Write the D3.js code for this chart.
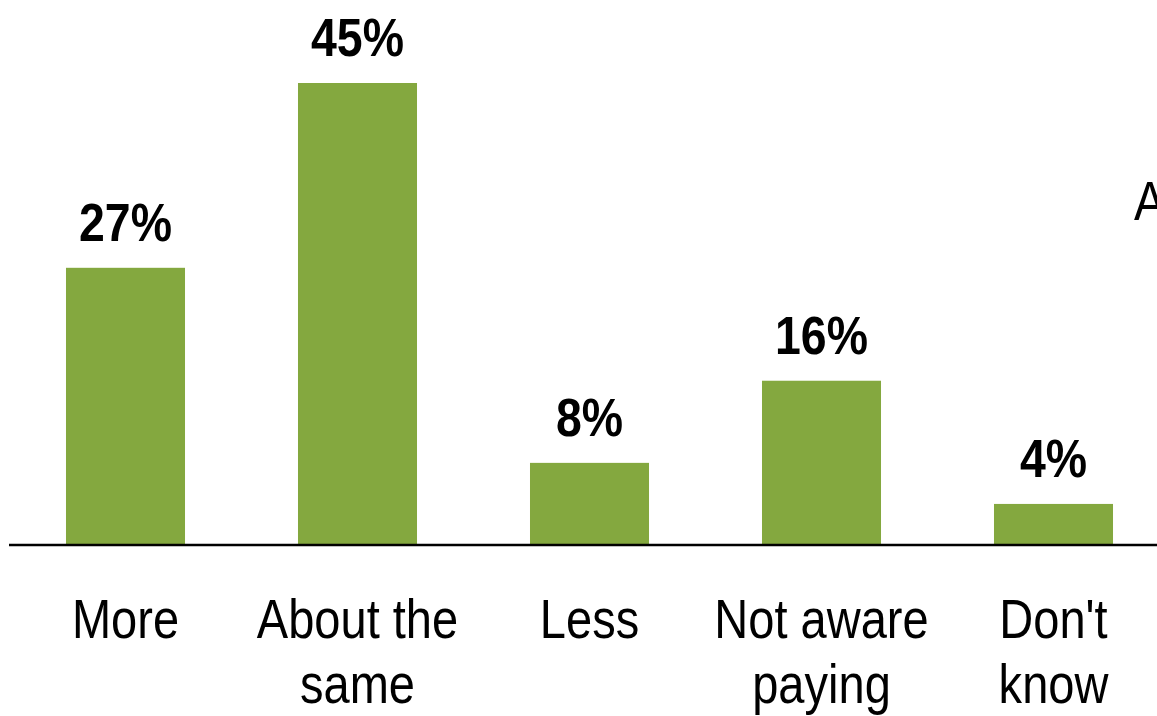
<!DOCTYPE html>
<html>
<head>
<meta charset="utf-8">
<script src="https://cdn.jsdelivr.net/npm/d3@7"></script>
<style>
  html, body { margin: 0; padding: 0; background: #fff; overflow: hidden; }
  svg { display: block; }
  text { font-family: "Liberation Sans Narrow", "Arial Narrow", "Liberation Sans", sans-serif; fill: #000; }
</style>
</head>
<body>
<script>
// Survey answers and their shares (%)
const categories = [["More"], ["About the", "same"], ["Less"], ["Not aware", "paying"], ["Don't", "know"]];
const values = [27, 45, 8, 16, 4];
const valueLabels = ["27%", "45%", "8%", "16%", "4%"];

const width = 1157, height = 716;
const svg = d3.select("body").append("svg")
  .attr("width", width).attr("height", height);

const baseline = 545;
const narrow = 0.84;      // horizontal squeeze for a condensed look
const x = d3.scaleBand()
  .domain(d3.range(values.length))
  .range([9.5, 9.5 + 232 * values.length])
  .paddingInner(0.487)
  .paddingOuter(0.2435);

const y = d3.scaleLinear().domain([0, 45]).range([baseline, 83]);
const cx = i => x(i) + x.bandwidth() / 2;

// bars
svg.append("g").selectAll("rect")
  .data(values)
  .join("rect")
  .attr("x", (d, i) => x(i))
  .attr("width", x.bandwidth())
  .attr("y", d => y(d))
  .attr("height", d => y(0) - y(d))
  .attr("fill", "#84a83f");

// value labels
svg.append("g").selectAll("text")
  .data(values)
  .join("text")
  .attr("transform", (d, i) => `translate(${cx(i)},${y(d) - 27}) scale(0.86,1)`)
  .attr("text-anchor", "middle")
  .attr("font-size", 54)
  .attr("font-weight", "bold")
  .text((d, i) => valueLabels[i]);

// baseline axis
svg.append("line")
  .attr("x1", 9).attr("x2", width)
  .attr("y1", baseline).attr("y2", baseline)
  .attr("stroke", "#000").attr("stroke-width", 2.5);

// category labels
const cat = svg.append("g").selectAll("text")
  .data(categories)
  .join("text")
  .attr("transform", (d, i) => `translate(${cx(i)},638) scale(${narrow},1)`)
  .attr("text-anchor", "middle")
  .attr("font-size", 56);
cat.selectAll("tspan")
  .data(d => d)
  .join("tspan")
  .attr("x", 0)
  .attr("dy", (d, j) => j === 0 ? 0 : 65)
  .text(d => d);

// side annotation running off the right edge
svg.append("text")
  .attr("transform", `translate(1134,220) scale(${narrow},1)`)
  .attr("font-size", 56)
  .text("A");
</script>
</body>
</html>
